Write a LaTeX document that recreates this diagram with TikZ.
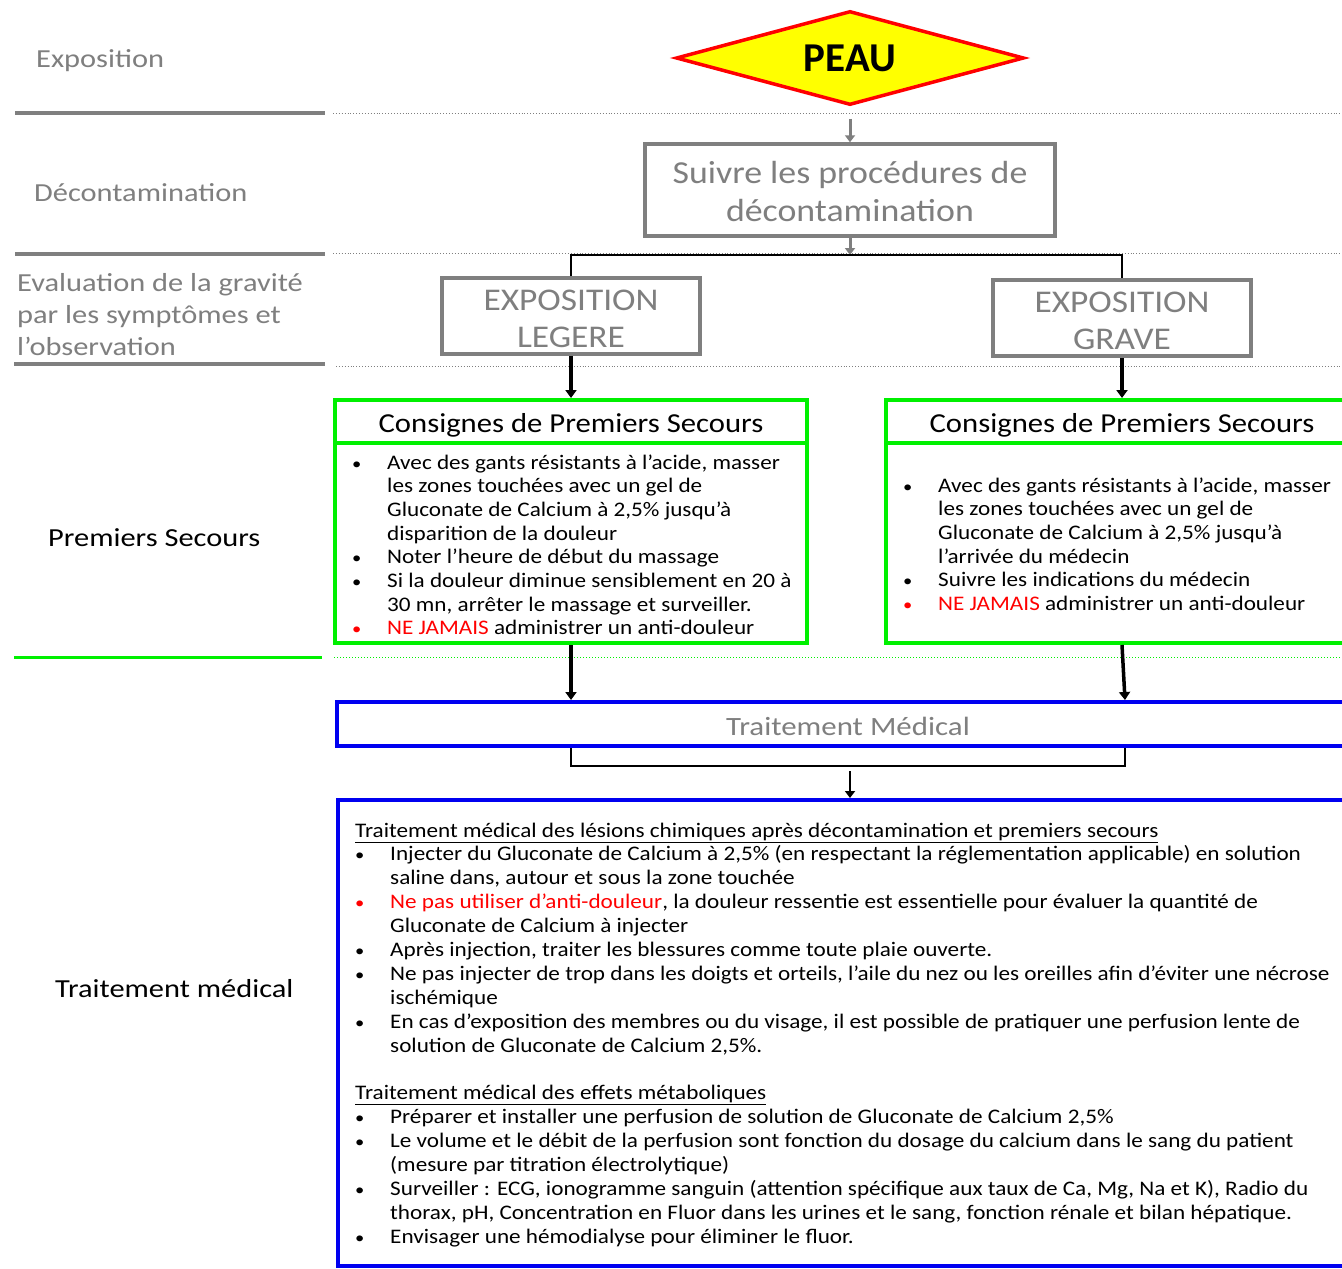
\documentclass[tikz,border=0pt]{standalone}
\usepackage{fontspec}
\setmainfont{Carlito}[FakeStretch=1.12]
\newfontfamily\widefont{Carlito}[FakeStretch=1.17]
\newfontfamily\peaufont{Carlito}
\usetikzlibrary{shapes.geometric,arrows.meta}
\definecolor{tgray}{RGB}{127,127,127}
\definecolor{tgreen}{RGB}{0,240,0}
\definecolor{tblue}{RGB}{0,0,240}
\definecolor{tred}{RGB}{255,0,0}
\definecolor{tyellow}{RGB}{255,255,0}
\newcommand\fsz[2]{\fontsize{#1}{#2}\selectfont}
\newcommand\smbul{\hspace*{-4pt}\scalebox{0.8}{\textbullet}}
\newcommand\bul{\makebox[31pt][l]{\smbul}}
\newcommand\rbul{\makebox[31pt][l]{\textcolor{tred}{\smbul}}}
\newcommand\hang{\hspace*{31pt}}
\newcommand\rtxt[1]{\textcolor{tred}{#1}}
\begin{document}
\begin{tikzpicture}[x=1pt,y=-1pt,
  lane/.style={line width=4pt, tgray},
  greenlane/.style={line width=3pt, tgreen},
  sepline/.style={dotted, tgray, line width=0.9pt},
  greensep/.style={dotted, tgreen, line width=1pt},
  lanelabel/.style={anchor=base west, inner sep=0, text=tgray, font=\widefont\fsz{26}{32}, align=left},
  blacklabel/.style={anchor=base west, inner sep=0, text=black, font=\widefont\fsz{26}{30}},
  graybox/.style={draw=tgray, line width=3.5pt, fill=white, inner sep=0},
  graytext/.style={text=tgray, align=center, inner sep=0},
  greenbox/.style={draw=tgreen, line width=4pt, inner sep=0},
  bluebox/.style={draw=tblue, line width=4pt, inner sep=0},
  bodytext/.style={anchor=base west, inner sep=0},
  garrow/.style={tgray, line width=3pt, -{Triangle[length=7pt,width=10pt]}},
  barrow/.style={black, line width=3.5pt, -{Triangle[length=8pt,width=11pt]}},
  link/.style={black, line width=2pt}]
\useasboundingbox (0,0) rectangle (1342,1269);
\clip (0,0) rectangle (1342,1269);
\fill[white] (0,0) rectangle (1342,1269);

% lane separators
\draw[lane] (15,113) -- (325,113);
\draw[lane] (15,254) -- (325,254);
\draw[lane] (14,364) -- (325,364);
\draw[greenlane] (14,657) -- (322,657);
\draw[sepline] (333,113) -- (1342,113);
\draw[sepline] (333,253) -- (1342,253);
\draw[sepline] (336,366) -- (1342,366);
\draw[greensep] (334,657) -- (1342,657);

% lane labels
\node[lanelabel] (lExpo) at (36,67) {Exposition};
\node[lanelabel] (lDecon) at (34,201) {Décontamination};
\node[lanelabel] (lEval) at (17,291) {\parbox[t]{320pt}{\widefont\fsz{26}{32}Evaluation de la gravité\\par les symptômes et\\l’observation}};
\node[blacklabel] (lPS) at (48,546) {Premiers Secours};
\node[blacklabel] (lTM) at (55,997) {Traitement médical};

% main flow
\node[diamond, draw=tred, line width=3.5pt, fill=tyellow, minimum width=348pt, minimum height=94pt, inner sep=0, aspect=3.7, font=\peaufont\bfseries\fsz{41}{41}] (peau) at (850,58) {PEAU};
\node[graybox, minimum width=410pt, minimum height=92pt] (decon) at (850,190) {};
\node[graytext, font=\fsz{32}{38}] (deconT) at (850,191.5) {Suivre les procédures de\\décontamination};
\node[graybox, minimum width=258pt, minimum height=76pt] (legere) at (571,316) {};
\node[graytext, font=\fsz{31.6}{37}] (legereT) at (571,319) {EXPOSITION\\LEGERE};
\node[graybox, minimum width=258pt, minimum height=76pt] (grave) at (1122,318) {};
\node[graytext, font=\fsz{31.6}{37}] (graveT) at (1122,320.5) {EXPOSITION\\GRAVE};

\draw[garrow, shorten <=12pt] (peau.south) -- (decon.north);
\coordinate (split) at (850,255);
\draw[garrow] (decon.south) -- (split);
\draw[link] (legere.north) -- (legere.north |- split) -- (grave.north |- split) -- (grave.north);

% first aid boxes
\node[greenbox, minimum width=472pt, minimum height=243pt] (fsL) at (571,521.5) {};
\node[greenbox, minimum width=472pt, minimum height=243pt] (fsR) at (1122,521.5) {};
\draw[tgreen, line width=4pt] (fsL.west |- 0,443) -- (fsL.east |- 0,443);
\draw[tgreen, line width=4pt] (fsR.west |- 0,443) -- (fsR.east |- 0,443);
\node[inner sep=0, font=\fsz{27.4}{27.4}] (fsLh) at (571,425) {Consignes de Premiers Secours};
\node[inner sep=0, font=\fsz{27.4}{27.4}] (fsRh) at (1122,425) {Consignes de Premiers Secours};

\node[bodytext] (fsLb) at (356,469) {\parbox[t]{450pt}{\fsz{20.7}{23.7}%
\bul Avec des gants résistants à l’acide, masser\\
\hang les zones touchées avec un gel de\\
\hang Gluconate de Calcium à 2,5\% jusqu’à\\
\hang disparition de la douleur\\
\bul Noter l’heure de début du massage\\
\bul Si la douleur diminue sensiblement en 20 à\\
\hang 30 mn, arrêter le massage et surveiller.\\
\rbul\rtxt{NE JAMAIS} administrer un anti-douleur}};

\node[bodytext] (fsRb) at (907,492) {\parbox[t]{450pt}{\fsz{20.7}{23.7}%
\bul Avec des gants résistants à l’acide, masser\\
\hang les zones touchées avec un gel de\\
\hang Gluconate de Calcium à 2,5\% jusqu’à\\
\hang l’arrivée du médecin\\
\bul Suivre les indications du médecin\\
\rbul\rtxt{NE JAMAIS} administrer un anti-douleur}};

\draw[barrow] (legere.south) -- (fsL.north);
\draw[barrow] (grave.south) -- (fsR.north);

% medical treatment
\node[bluebox, minimum width=1022pt, minimum height=44pt] (tm) at (848,724) {};
\node[inner sep=0, text=tgray, font=\widefont\fsz{26.4}{26.4}] (tmt) at (848,726) {Traitement Médical};
\node[bluebox, minimum width=1020pt, minimum height=466pt] (big) at (848,1033) {};

\draw[barrow] (fsL.south) -- (fsL.south |- tm.north);
\draw[barrow] (fsR.south) -- ([xshift=3pt]fsR.south |- tm.north);
\coordinate (brk) at (850,766);
\draw[link] (fsL.south |- tm.south) -- (fsL.south |- brk) -- ([xshift=3pt]fsR.south |- brk) -- ([xshift=3pt]fsR.south |- tm.south);
\draw[black, line width=2.5pt, -{Triangle[length=7pt,width=10pt]}] ([yshift=-5pt]brk) -- (brk |- big.north);

\node[bodytext] (bigb) at (359,837) {\parbox[t]{1000pt}{\fsz{20.7}{23.9}%
\hspace*{-4pt}\underline{Traitement médical des lésions chimiques après décontamination et premiers secours}\\
\bul Injecter du Gluconate de Calcium à 2,5\% (en respectant la réglementation applicable) en solution\\
\hang saline dans, autour et sous la zone touchée\\
\rbul\rtxt{Ne pas utiliser d’anti-douleur}, la douleur ressentie est essentielle pour évaluer la quantité de\\
\hang Gluconate de Calcium à injecter\\
\bul Après injection, traiter les blessures comme toute plaie ouverte.\\
\bul Ne pas injecter de trop dans les doigts et orteils, l’aile du nez ou les oreilles afin d’éviter une nécrose\\
\hang ischémique\\
\bul En cas d’exposition des membres ou du visage, il est possible de pratiquer une perfusion lente de\\
\hang solution de Gluconate de Calcium 2,5\%.\\
\mbox{}\\
\hspace*{-4pt}\underline{Traitement médical des effets métaboliques}\\
\bul Préparer et installer une perfusion de solution de Gluconate de Calcium 2,5\%\\
\bul Le volume et le débit de la perfusion sont fonction du dosage du calcium dans le sang du patient\\
\hang (mesure par titration électrolytique)\\
\bul Surveiller : ECG, ionogramme sanguin (attention spécifique aux taux de Ca, Mg, Na et K), Radio du\\
\hang thorax, pH, Concentration en Fluor dans les urines et le sang, fonction rénale et bilan hépatique.\\
\bul Envisager une hémodialyse pour éliminer le fluor.}};
\end{tikzpicture}
\end{document}
